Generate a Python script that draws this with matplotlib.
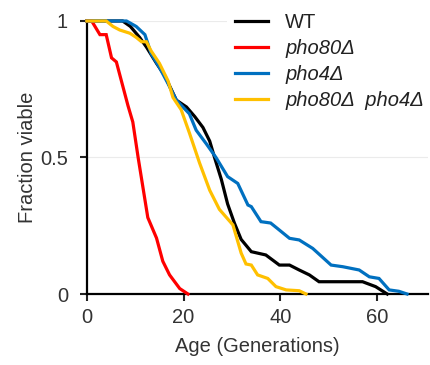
import matplotlib.pyplot as plt

plt.rcParams["font.family"] = ["Liberation Sans", "DejaVu Sans"]

# survival curves: age (generations) and fraction viable
wt_age = [0, 7.4, 9, 10.9, 12.3, 14.4, 16.1, 18.5, 20.6, 22.3, 24, 25.4, 26.4,
          27.8, 29.1, 30.5, 31.9, 34, 37, 39.8, 41.9, 43.9, 46, 48, 57, 59.7, 62.1]
wt_frac = [1, 1, 0.98, 0.94, 0.905, 0.845, 0.80, 0.71, 0.685, 0.65, 0.61, 0.56, 0.50,
           0.42, 0.33, 0.26, 0.20, 0.155, 0.143, 0.106, 0.106, 0.088, 0.07, 0.045,
           0.045, 0.027, 0]

pho80_age = [0, 1, 2.7, 4, 5.1, 6.1, 8.5, 9.5, 10.6, 11.6, 12.6, 14.4, 15.7,
             17.1, 19.2, 20.9]
pho80_frac = [1, 1, 0.95, 0.95, 0.865, 0.85, 0.69, 0.63, 0.50, 0.39, 0.28, 0.205,
              0.12, 0.07, 0.02, 0]

pho4_age = [0, 8.2, 10.2, 12, 13.3, 15, 16.8, 18.5, 21.2, 22.6, 24.7, 26.7, 29.1,
            31.2, 33.3, 34, 36, 38, 39.4, 41.9, 43.9, 46.7, 50.5, 52.9, 56.3, 58.4,
            60.4, 62.5, 64.5, 66.2]
pho4_frac = [1, 1, 0.98, 0.95, 0.88, 0.83, 0.77, 0.71, 0.66, 0.60, 0.55, 0.50, 0.43,
             0.405, 0.326, 0.32, 0.265, 0.26, 0.24, 0.204, 0.198, 0.167, 0.106, 0.10,
             0.088, 0.063, 0.057, 0.015, 0.01, 0]

double_age = [0, 1, 4, 5.4, 6.8, 8.9, 10.2, 11.3, 12.3, 13.3, 15, 16.8, 17.8, 19.5,
              21.2, 23.3, 25.4, 27.4, 30.2, 31.9, 32.9, 34, 35.3, 37.4, 39.1, 41.2,
              43.9, 45.3]
double_frac = [1, 1, 1, 0.98, 0.967, 0.955, 0.94, 0.924, 0.924, 0.89, 0.845, 0.78,
               0.72, 0.675, 0.59, 0.48, 0.38, 0.31, 0.253, 0.15, 0.11, 0.106, 0.07,
               0.057, 0.027, 0.015, 0.012, 0]

labels = ["WT", "pho80Δ", "pho4Δ", "pho80Δ  pho4Δ"]
colors = ["#000000", "#ff0000", "#0070c0", "#ffc000"]


def draw():
    fig = plt.figure(figsize=(4.3, 3.65), dpi=100)
    ax = fig.add_axes([0.202, 0.1945, 0.793, 0.748])
    series = [(wt_age, wt_frac), (pho80_age, pho80_frac),
              (pho4_age, pho4_frac), (double_age, double_frac)]
    for (x, y), lab, c in zip(series, labels, colors):
        ax.plot(x, y, color=c, lw=2.3, label=lab, solid_joinstyle="miter",
                zorder=3, clip_on=False)

    for yv in (0.5, 1):
        ax.axhline(yv, color="#ebebeb", lw=0.8, zorder=0)

    ax.set_xlim(0, 70.5)
    ax.set_ylim(0, 1)
    ax.set_xticks([0, 20, 40, 60])
    ax.set_yticks([0, 0.5, 1])
    ax.set_yticklabels(["0", "0.5", "1"])
    ax.tick_params(labelsize=14.5, width=1.5, length=5, colors="#222222",
                   labelcolor="#333333")
    ax.tick_params(axis="x", pad=5)
    ax.tick_params(axis="y", pad=8.5)
    for s in ("top", "right"):
        ax.spines[s].set_visible(False)
    for s in ("left", "bottom"):
        ax.spines[s].set_linewidth(1.6)
    ax.set_xlabel("Age (Generations)", fontsize=14.5, color="#333333", labelpad=7)
    ax.set_ylabel("Fraction viable", fontsize=14.5, color="#333333", labelpad=2.5)

    leg = ax.legend(loc="upper left", bbox_to_anchor=(0.41, 1.06), frameon=True,
                    fontsize=14.5, handlelength=1.65, handletextpad=0.85,
                    labelspacing=0.36, borderaxespad=0, framealpha=1)
    leg.get_frame().set_edgecolor("none")
    for i, t in enumerate(leg.get_texts()):
        t.set_color("#222222")
        if i > 0:
            t.set_fontstyle("italic")

    plt.savefig("out.png", dpi=100)


def main():
    draw()


if __name__ == "__main__":
    main()
